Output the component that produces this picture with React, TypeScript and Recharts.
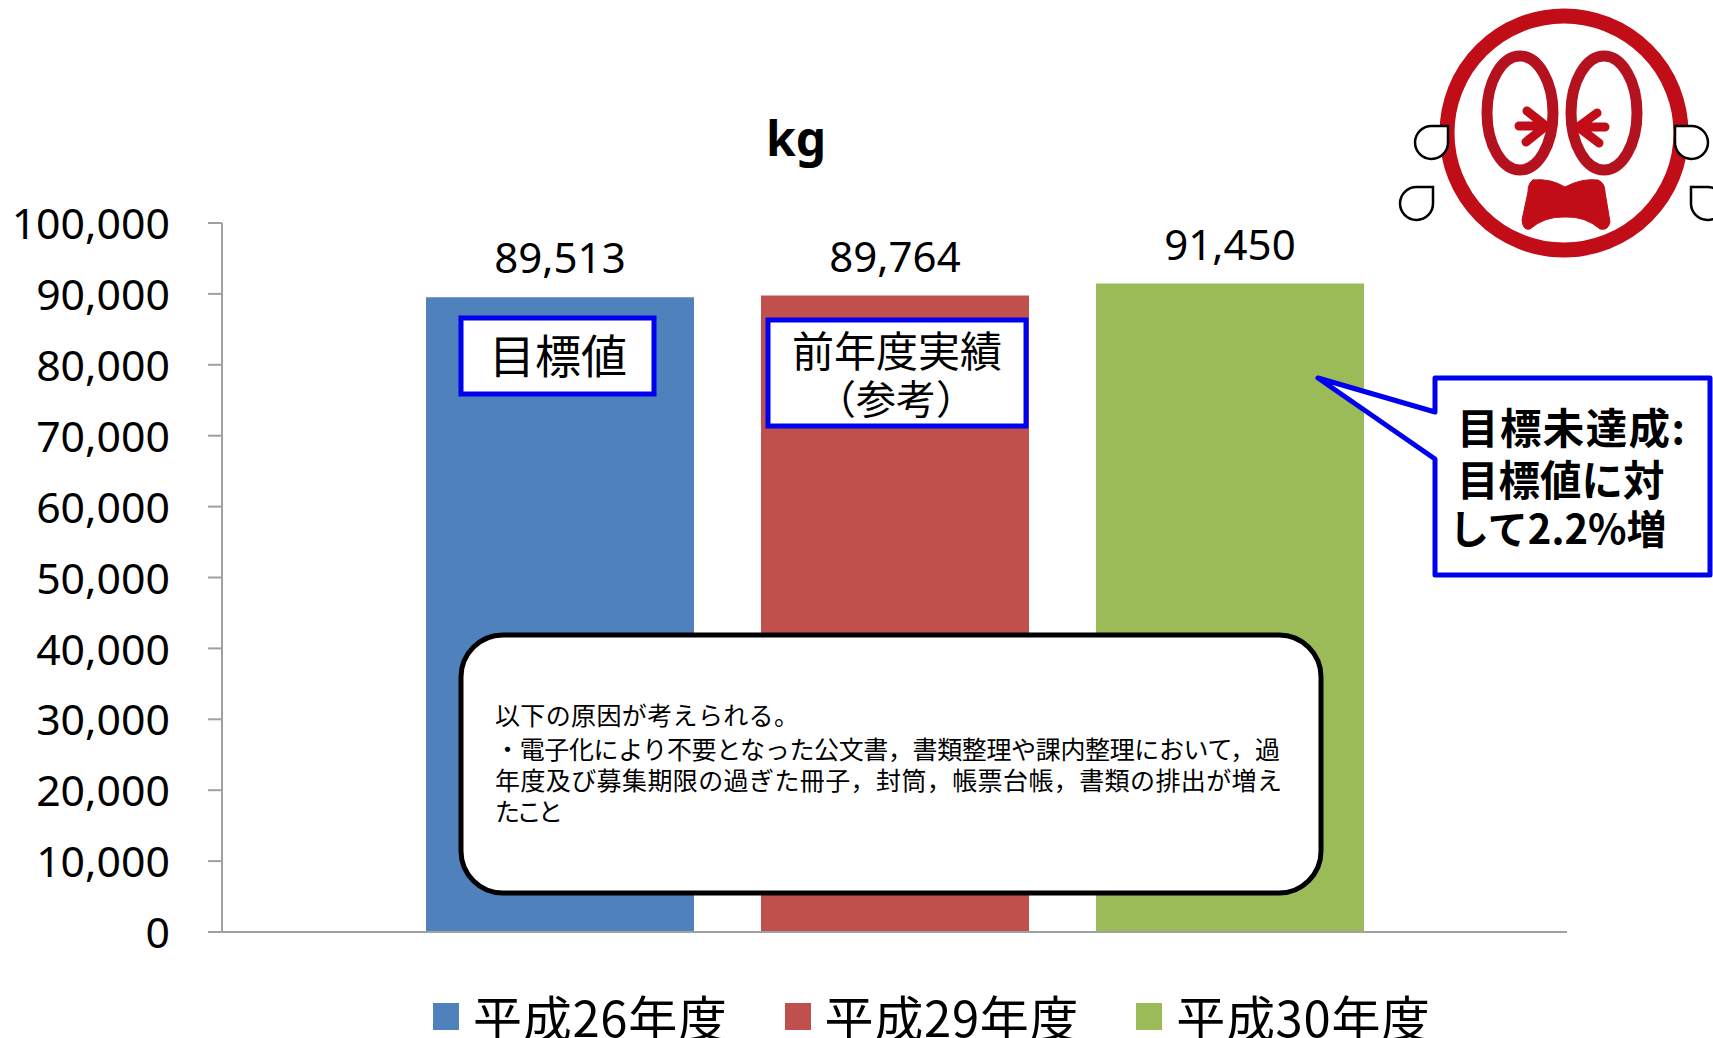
import { Bar, BarChart, LabelList, Legend, XAxis, YAxis } from "recharts";

const CATEGORIES = ["廃棄物排出量"];
const SERIES_NAMES = ["平成26年度", "平成29年度", "平成30年度"];
const SERIES_VALUES = [89513, 89764, 91450];
const SERIES_COLORS = ["#4f81bd", "#c0504d", "#9bbb59"];
const Y_TICKS = [0, 10000, 20000, 30000, 40000, 50000, 60000, 70000, 80000, 90000, 100000];
const NOTE_LINES = [
  "以下の原因が考えられる。",
  "・電子化により不要となった公文書，書類整理や課内整理において，過",
  "年度及び募集期限の過ぎた冊子，封筒，帳票台帳，書類の排出が増え",
  "たこと",
];
const NOTE_LINE_Y = [725, 759, 790, 821];
const NOTE_LINE_WIDTH = [304, 785, 787, 68];

const LATIN = '"Noto Sans", sans-serif';
const CJK = '"Noto Sans CJK JP", sans-serif';
const BLUE = "#0000f0";
const FACE_RED = "#c00d18";

const chartData = CATEGORIES.map((name) => {
  const row: Record<string, string | number> = { name };
  SERIES_NAMES.forEach((s, i) => {
    row[s] = SERIES_VALUES[i];
  });
  return row;
});

const fmt = (v: number) => v.toLocaleString("en-US");

function LegendRow({ payload }: any) {
  return (
    <div style={{ display: "flex", alignItems: "center", fontFamily: CJK, fontSize: 49, letterSpacing: 0.7, lineHeight: "60px", color: "#000" }}>
      {(payload ?? []).map((p: any) => (
        <div key={p.value} style={{ display: "flex", alignItems: "center", marginRight: 57 }}>
          <span style={{ width: 26, height: 27, background: p.color, marginRight: 14, display: "inline-block" }} />
          <span style={{ whiteSpace: "nowrap" }}>{p.value}</span>
        </div>
      ))}
    </div>
  );
}

function Face() {
  return (
    <g fill="none" strokeLinecap="round" strokeLinejoin="round">
      <ellipse cx={1564} cy={133} rx={117} ry={117} stroke={FACE_RED} strokeWidth={15} fill="#fff" />
      <ellipse cx={1520} cy={113} rx={33} ry={57} stroke="#b5121f" strokeWidth={11} />
      <ellipse cx={1604} cy={113} rx={33} ry={57} stroke="#b5121f" strokeWidth={11} />
      <path d="M1519 126 L1546 126 M1527 111 L1546 126 L1526 142" stroke={FACE_RED} strokeWidth={9} />
      <path d="M1605 127 L1578 127 M1597 113 L1578 127 L1599 143" stroke={FACE_RED} strokeWidth={9} />
      <path
        d="M1533 180 Q1550 178 1565 187 Q1582 178 1598 180 Q1605 183 1605 192 L1610 222 Q1608 231 1600 229 Q1585 216 1565 217 Q1545 216 1530 229 Q1523 231 1522 220 L1528 192 Q1528 183 1533 180 Z"
        fill={FACE_RED}
        stroke={FACE_RED}
        strokeWidth={1}
      />
      <g stroke="#000" strokeWidth={2.5} fill="#fff" strokeLinecap="butt" strokeLinejoin="miter">
        <path d="M1448 126 L1432 126 A16.5 16.5 0 1 0 1448 142 Z" />
        <path d="M1433 187 L1417 187 A16.5 16.5 0 1 0 1433 203 Z" />
        <path d="M1675 126 L1691 126 A16.5 16.5 0 1 1 1675 142 Z" />
        <path d="M1691 187 L1707 187 A16.5 16.5 0 1 1 1691 203 Z" />
      </g>
    </g>
  );
}

function Overlay() {
  return (
    <svg width={1713} height={1038} style={{ position: "absolute", left: 0, top: 0 }}>
      <text x={796} y={156} textAnchor="middle" fontFamily={LATIN} fontWeight={700} fontSize={48} fill="#000">
        kg
      </text>

      <rect x={461} y={318} width={193} height={76} fill="#fff" stroke={BLUE} strokeWidth={5} />
      <text x={558} y={373} textAnchor="middle" fontFamily={CJK} fontSize={46} fill="#000">
        目標値
      </text>

      <rect x={768} y={320} width={258} height={106} fill="#fff" stroke={BLUE} strokeWidth={5} />
      <text x={897} y={367} textAnchor="middle" fontFamily={CJK} fontSize={42} fill="#000">
        前年度実績
      </text>
      <text x={896} y={414} textAnchor="middle" fontFamily={CJK} fontSize={40} fill="#000">
        （参考）
      </text>

      <path
        d="M1435 378 L1710 378 L1710 575 L1435 575 L1435 459 L1318 378 L1435 412 Z"
        fill="#fff"
        stroke={BLUE}
        strokeWidth={5}
        strokeLinejoin="round"
      />
      <g fontFamily={CJK} fontWeight={700} fill="#000">
        <text x={1457} y={444} fontSize={41.5} textLength={228}>目標未達成:</text>
        <text x={1457} y={496} fontSize={41.5}>目標値に対</text>
        <text x={1449} y={544} fontSize={40}>
          して2.2%増
        </text>
      </g>

      <rect x={461} y={635} width={860} height={258} rx={42} ry={42} fill="#fff" stroke="#000" strokeWidth={5} />
      <g fontFamily={CJK} fontSize={25} fill="#000">
        {NOTE_LINES.map((line, i) => (
          <text key={line} x={495} y={NOTE_LINE_Y[i]} textLength={NOTE_LINE_WIDTH[i]}>
            {line}
          </text>
        ))}
      </g>

      <Face />
    </svg>
  );
}

export default function App() {
  return (
    <div style={{ position: "absolute", left: 0, top: 0, width: 1713, height: 1038, overflow: "hidden", background: "#fff" }}>
      <BarChart
        width={1713}
        height={1038}
        data={chartData}
        margin={{ top: 223, right: 146, bottom: 104, left: 0 }}
        barSize={268}
        barGap={67}
      >
        <XAxis dataKey="name" tick={false} tickLine={false} height={2} axisLine={{ stroke: "#a0a0a0", strokeWidth: 2 }} />
        <YAxis
          width={222}
          domain={[0, 100000]}
          ticks={Y_TICKS}
          interval={0}
          tickFormatter={fmt}
          tickSize={14}
          tickMargin={38}
          tick={{ fill: "#000", fontSize: 42.8, fontFamily: LATIN, dy: 1 }}
          tickLine={{ stroke: "#a0a0a0", strokeWidth: 2 }}
          axisLine={{ stroke: "#a0a0a0", strokeWidth: 2 }}
        />
        <Legend
          layout="vertical"
          align="center"
          verticalAlign="middle"
          content={<LegendRow />}
          wrapperStyle={{ left: 433, top: 986, width: 1200, height: 60 }}
        />
        {SERIES_NAMES.map((s, i) => (
          <Bar key={s} dataKey={s} fill={SERIES_COLORS[i]} isAnimationActive={false}>
            <LabelList
              dataKey={s}
              position="top"
              offset={24}
              formatter={fmt}
              fill="#000"
              fontSize={42}
              fontFamily={LATIN}
            />
          </Bar>
        ))}
      </BarChart>
      <Overlay />
    </div>
  );
}
